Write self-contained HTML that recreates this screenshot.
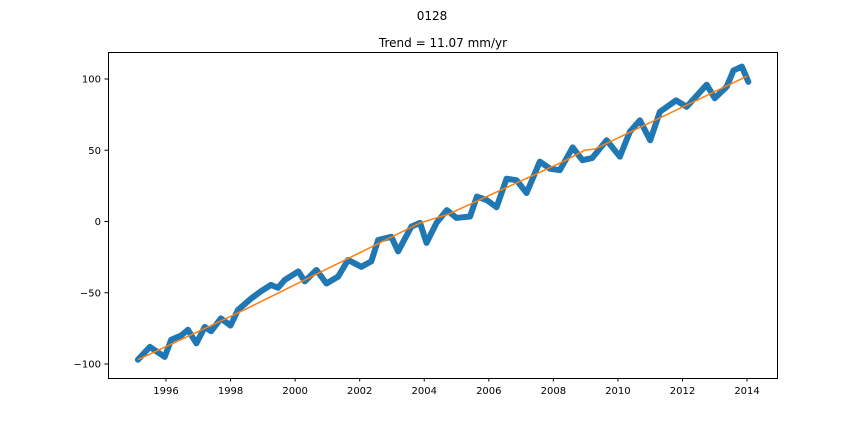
<!DOCTYPE html>
<html><head><meta charset="utf-8"><style>
body{margin:0;background:#fff}
svg text{font-family:"DejaVu Sans","Liberation Sans",sans-serif;fill:#000}
</style></head><body>
<svg width="864" height="432" id="c">
<text x="432" y="20" text-anchor="middle" font-size="12">0128</text>
<text x="443" y="47" text-anchor="middle" font-size="12">Trend = 11.07 mm/yr</text>
<g id="plot"></g>
<rect x="108.5" y="52.5" width="669" height="326" fill="none" stroke="#000" stroke-width="1"/>
</svg>
<script>
const years=[1995.13,1995.5,1995.96,1996.16,1996.47,1996.68,1996.94,1997.2,1997.4,1997.7,1998.0,1998.23,1998.64,1998.94,1999.25,1999.47,1999.68,2000.1,2000.3,2000.66,2000.97,2001.33,2001.64,2002.05,2002.36,2002.57,2002.98,2003.19,2003.6,2003.87,2004.07,2004.38,2004.7,2005.0,2005.42,2005.63,2005.94,2006.24,2006.55,2006.86,2007.17,2007.58,2007.9,2008.2,2008.6,2008.9,2009.2,2009.65,2010.06,2010.37,2010.68,2011.0,2011.3,2011.8,2012.13,2012.75,2013.0,2013.37,2013.58,2013.84,2014.04];
const values=[-97,-88,-95,-83,-80,-76,-85.5,-74,-77,-68,-73,-62,-54,-49,-44.5,-46.5,-41,-35,-42,-34,-43.5,-38.7,-27,-31.8,-28,-13,-10.7,-21,-3.6,-1,-15,-1,8,2.5,3.5,17.5,15,10,30,29,20,42,37,36,52,43,44.5,57,45.5,63,71,57,77,85,80.5,96,86.5,94.6,106,108.7,98];
const trendYears=[1995.13,1998.1,2003.87,2004.73,2008.3,2008.97,2009.3,2014.0];
const trendValues=[-97,-65.6,-1,5,42,50,51,102];
const xTicks=[1996,1998,2000,2002,2004,2006,2008,2010,2012,2014];
const yTicks=[-100,-50,0,50,100];
const NS='http://www.w3.org/2000/svg';
const X=yr=>166+(yr-1996)*32.28;
const Y=v=>79+(100-v)*1.425;
const svg=document.getElementById('c'), g=document.getElementById('plot');
function mk(t,a){const e=document.createElementNS(NS,t);for(const k in a)e.setAttribute(k,a[k]);return e;}
const obs=mk('polyline',{points:years.map((y,i)=>X(y)+','+Y(values[i])).join(' '),fill:'none',stroke:'#1f77b4','stroke-width':6,'stroke-linejoin':'round','stroke-linecap':'round'});


g.appendChild(obs);
const tr=mk('polyline',{points:trendYears.map((y,i)=>X(y)+','+Y(trendValues[i])).join(' '),fill:'none',stroke:'#ff7f0e','stroke-width':1.5});


g.appendChild(tr);
xTicks.forEach(t=>{const x=X(t);
const l=mk('line',{x1:x,x2:x,y1:378,y2:381.5,stroke:'#000'});


svg.appendChild(l);
const tx=mk('text',{x:x,y:394,'text-anchor':'middle','font-size':10});tx.textContent=t;


svg.appendChild(tx);});
yTicks.forEach(t=>{const y=Y(t);
const l=mk('line',{x1:104.5,x2:108,y1:y,y2:y,stroke:'#000'});


svg.appendChild(l);
const tx=mk('text',{x:101,y:y+3.5,'text-anchor':'end','font-size':10});tx.textContent=t===0?'0':(t<0?'\u2212'+(-t):t);


svg.appendChild(tx);});
</script>
</body></html>
